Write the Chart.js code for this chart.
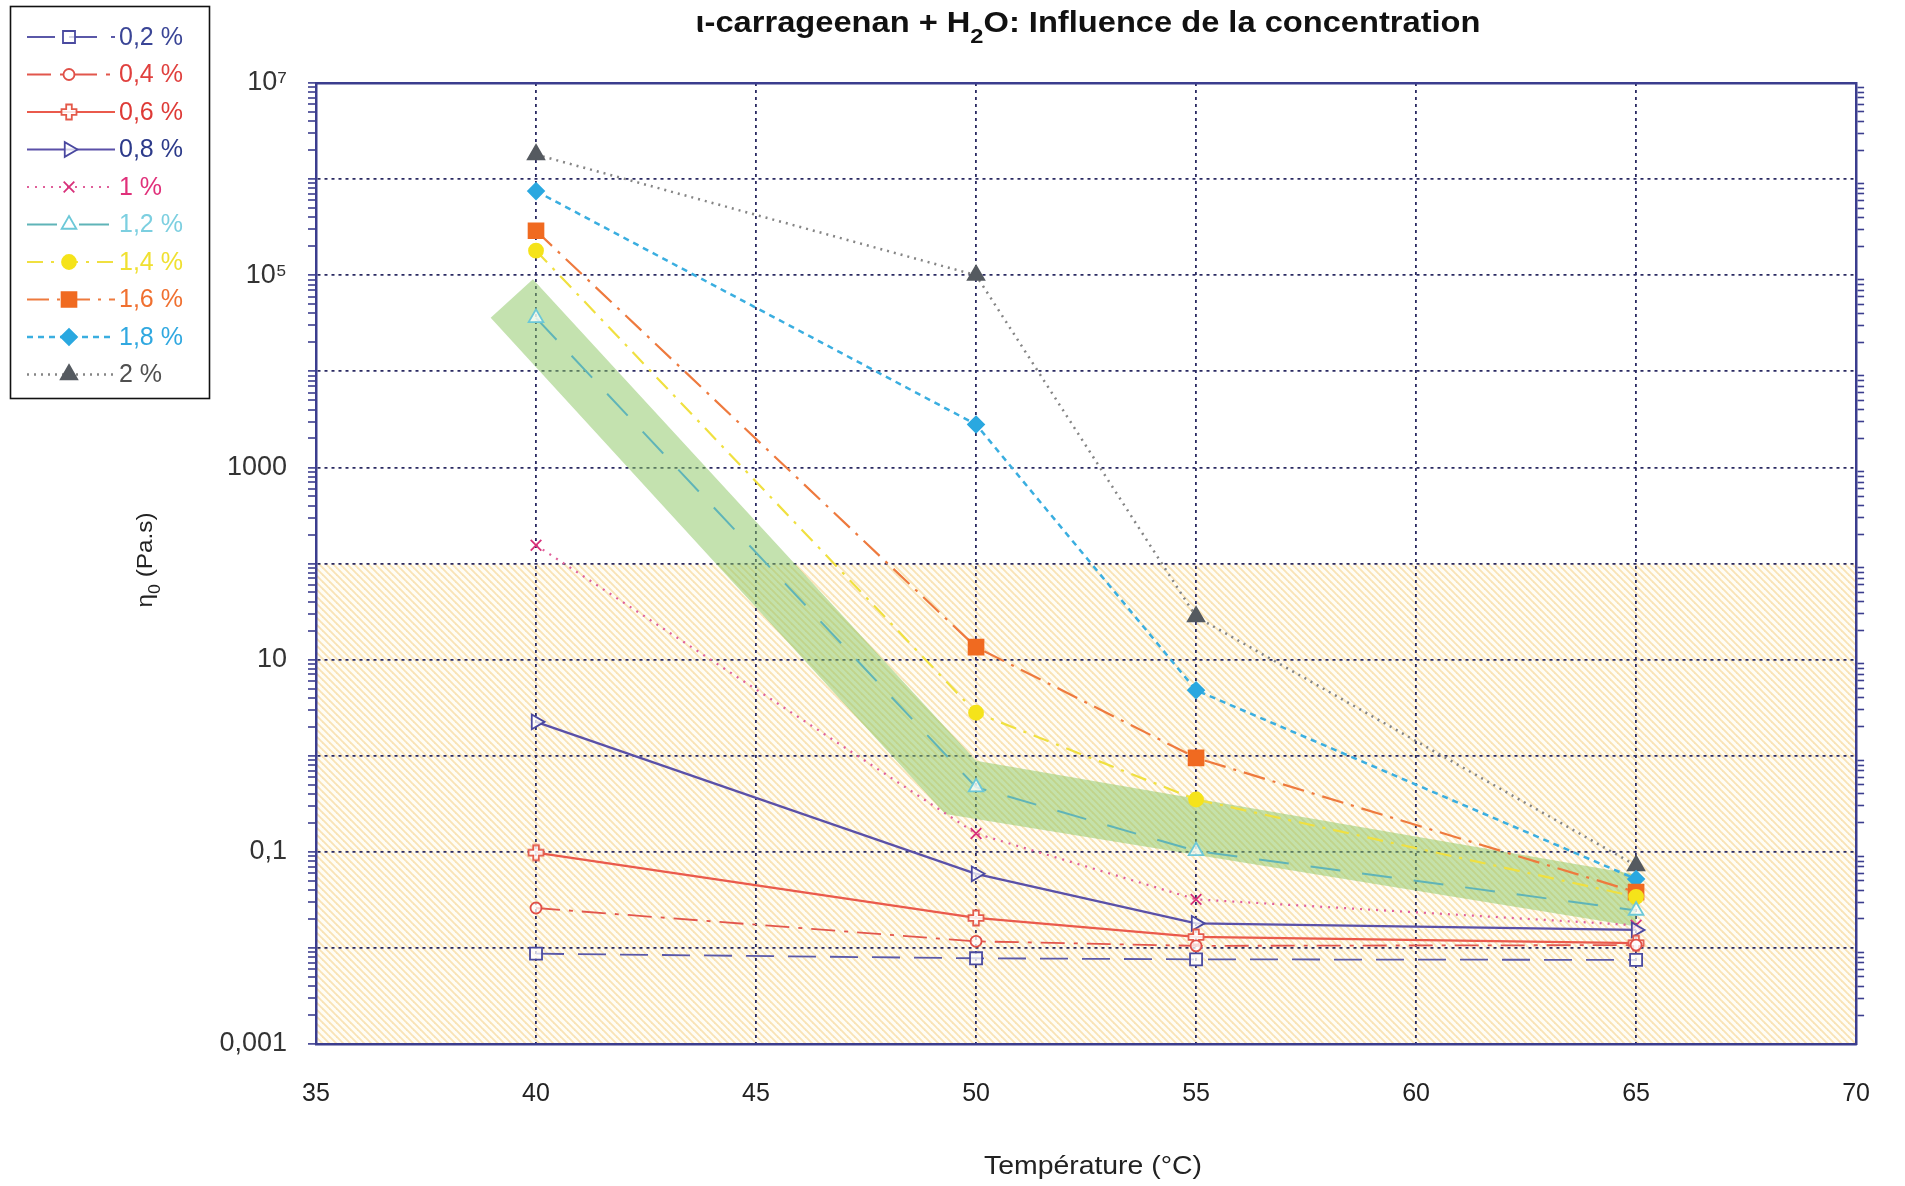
<!DOCTYPE html>
<html><head><meta charset="utf-8">
<script src="https://cdn.jsdelivr.net/npm/chart.js@4.4.1/dist/chart.umd.min.js"></script>
<style>html,body{margin:0;padding:0;background:#fff}#wrap{position:relative;width:1905px;height:1186px}</style>
</head><body><div id="wrap"><canvas id="c" width="1905" height="1186"></canvas></div>
<script>
// ---------- data ----------
const temperatures = [40, 50, 55, 65];
const seriesLabels = ['0,2 %', '0,4 %', '0,6 %', '0,8 %', '1 %', '1,2 %', '1,4 %', '1,6 %', '1,8 %', '2 %'];
const c02 = [0.0087, 0.0078, 0.0076, 0.0075];
const c04 = [0.026, 0.0117, 0.0105, 0.0107];
const c06 = [0.098, 0.0205, 0.013, 0.0112];
const c08 = [2.25, 0.059, 0.018, 0.0154];
const c10 = [155, 0.155, 0.032, 0.0172];
const c12 = [36000, 0.47, 0.102, 0.0245];
const c14 = [180000, 2.8, 0.35, 0.034];
const c16 = [290000, 13.5, 0.95, 0.038];
const c18 = [750000, 2800, 4.8, 0.052];
const c20 = [1800000, 100000, 28, 0.072];
const seriesValues = [c02, c04, c06, c08, c10, c12, c14, c16, c18, c20];
// highlighted band (polygon outline)
const bandX = [38.97, 39.93, 50.0, 65.0, 65.0, 49.3];
const bandY = [36000, 91000, 0.885, 0.058, 0.0167, 0.247];
// hatched zone: below this viscosity
const hatchLimit = 100;
const xTicks = [35, 40, 45, 50, 55, 60, 65, 70];
const yTickLabels = {'7': '10\u2077', '5': '10\u2075', '3': '1000', '1': '10', '-1': '0,1', '-3': '0,001'};
const titleParts = [{t: '\u03b9-carrageenan + H'}, {t: '2', sub: true}, {t: 'O: Influence de la concentration'}];
const yTitleParts = [{t: '\u03b7'}, {t: '0', sub: true}, {t: ' (Pa.s)'}];
const xTitle = 'Temp\u00e9rature (\u00b0C)';

// ---------- styles ----------
const NAVY = '#3b3d8e';
function plusImage(color) {
  const s = 20, c = document.createElement('canvas'); c.width = c.height = s;
  const g = c.getContext('2d'); const a = 2.8, h = 7.5, m = s / 2;
  g.beginPath();
  g.moveTo(m - a, m - h); g.lineTo(m + a, m - h); g.lineTo(m + a, m - a); g.lineTo(m + h, m - a);
  g.lineTo(m + h, m + a); g.lineTo(m + a, m + a); g.lineTo(m + a, m + h); g.lineTo(m - a, m + h);
  g.lineTo(m - a, m + a); g.lineTo(m - h, m + a); g.lineTo(m - h, m - a); g.lineTo(m - a, m - a);
  g.closePath(); g.fillStyle = 'rgba(255,255,255,0.85)'; g.fill();
  g.strokeStyle = color; g.lineWidth = 1.8; g.stroke();
  return c;
}
const OPEN = 'rgba(255,255,255,0.75)';
const styles = [
  {line: '#5a58a8', dash: [28, 14], w: 1.8, ps: 'rect', r: 8.5, bg: OPEN, pb: '#4a4aa0', text: '#3a4596'},
  {line: '#e2564c', dash: [24, 9, 4, 9], w: 1.8, ps: 'circle', r: 5.5, bg: OPEN, pb: '#e05048', text: '#e0403e'},
  {line: '#ea5a4c', dash: [], w: 2.2, ps: plusImage('#e45a4a'), r: 8, bg: OPEN, pb: '#e45a4a', text: '#de3a36'},
  {line: '#5a50a8', dash: [], w: 2.2, ps: 'triangle', rot: 90, r: 8.5, bg: OPEN, pb: '#4a48a0', text: '#2c3a8a'},
  {line: '#e0609a', dash: [2, 6], w: 2.2, ps: 'crossRot', r: 7.5, bg: '#d8307a', pb: '#d8307a', text: '#e0307a'},
  {line: '#5fb4b8', dash: [30, 22], w: 2, ps: 'triangle', r: 8.5, bg: OPEN, pb: '#6cc8d8', text: '#7ccfe0'},
  {line: '#f0e040', dash: [16, 8, 3, 8], w: 2.2, ps: 'circle', r: 7, bg: '#f5e31a', pb: '#f5e31a', text: '#f0e030'},
  {line: '#ee7a3e', dash: [22, 8, 3, 8], w: 2.2, ps: 'rect', r: 10.5, bg: '#f06a20', pb: '#f06a20', text: '#f07030'},
  {line: '#3aaee0', dash: [6, 5], w: 2.5, ps: 'rectRot', r: 8, bg: '#2aa8e0', pb: '#2aa8e0', text: '#30a8e0'},
  {line: '#858585', dash: [2, 5], w: 2.5, ps: 'triangle', r: 9.5, bg: '#555a60', pb: '#555a60', text: '#505050'}
];

function isDecade(v) { const e = Math.log10(v); return Math.abs(e - Math.round(e)) < 1e-6; }
function logTicks() {
  const t = [];
  for (let e = -3; e <= 7; e++) {
    for (let m = 1; m <= 9; m++) {
      const v = m * Math.pow(10, e);
      if (v <= 1e7 * 1.0000001) t.push({value: Number(v.toPrecision(6))});
      if (e === 7) break;
    }
  }
  return t;
}

const datasets = seriesValues.map((vals, i) => {
  const s = styles[i];
  return {
    label: seriesLabels[i],
    data: temperatures.map((x, k) => ({x: x, y: vals[k]})),
    showLine: true, borderColor: s.line, borderDash: s.dash, borderWidth: s.w,
    pointStyle: s.ps, pointRotation: s.rot || 0, pointRadius: s.r, pointHoverRadius: s.r,
    pointBackgroundColor: s.bg, pointBorderColor: s.pb, pointBorderWidth: 1.8,
    fill: false, order: 1, tension: 0, legendText: s.text
  };
});
datasets.push({
  label: 'band', data: bandX.map((x, k) => ({x: x, y: bandY[k]})).concat([{x: bandX[0], y: bandY[0]}]),
  showLine: true, borderWidth: 0, borderColor: 'rgba(0,0,0,0)', pointRadius: 0, pointHoverRadius: 0,
  fill: 'shape', backgroundColor: 'rgba(138,198,96,0.5)', order: 100, tension: 0
});

// hatch pattern
function hatchPattern(ctx) {
  const s = 7, c = document.createElement('canvas'); c.width = c.height = s;
  const g = c.getContext('2d');
  g.fillStyle = '#fffdf5'; g.fillRect(0, 0, s, s);
  g.strokeStyle = '#f9e3b6'; g.lineWidth = 1.9;
  for (const off of [-s, 0, s]) { g.beginPath(); g.moveTo(off - 1, -1); g.lineTo(off + s + 1, s + 1); g.stroke(); }
  return ctx.createPattern(c, 'repeat');
}

function drawRich(ctx, parts, cx, cy, size, bold, color, targetW) {
  const f = (sub) => (bold ? 'bold ' : '') + (sub ? Math.round(size * 0.72) : size) + 'px "Liberation Sans", Arial, sans-serif';
  let w = 0;
  parts.forEach(p => { ctx.font = f(p.sub); p._w = ctx.measureText(p.t).width; w += p._w; });
  const sx = targetW ? targetW / w : 1;
  ctx.save(); ctx.translate(cx, cy); ctx.scale(sx, 1);
  ctx.fillStyle = color; ctx.textBaseline = 'middle'; ctx.textAlign = 'left';
  let x = -w / 2;
  parts.forEach(p => { ctx.font = f(p.sub); ctx.fillText(p.t, x, p.sub ? size * 0.45 : 0); x += p._w; });
  ctx.restore();
}

const decor = {
  id: 'decor',
  beforeDraw(chart) {
    const {ctx, chartArea: a, scales} = chart;
    const yTop = scales.y.getPixelForValue(hatchLimit);
    ctx.save();
    ctx.fillStyle = hatchPattern(ctx);
    ctx.fillRect(a.left, yTop, a.right - a.left, a.bottom - yTop);
    ctx.restore();
  },
  afterDraw(chart) {
    const ctx = chart.ctx;
    // title
    drawRich(ctx, titleParts, 1088, 24, 29, true, '#111', 785);
    // y title
    ctx.save(); ctx.translate(146, 560); ctx.rotate(-Math.PI / 2);
    drawRich(ctx, yTitleParts, 0, 0, 22, false, '#222', 95);
    ctx.restore();
    // x title
    drawRich(ctx, [{t: xTitle}], 1093, 1167, 25, false, '#222', 218);
    // legend
    ctx.save();
    ctx.fillStyle = '#fff'; ctx.fillRect(10, 6, 199, 392);
    ctx.strokeStyle = '#111'; ctx.lineWidth = 1.6; ctx.strokeRect(10.5, 6.5, 199, 392);
    chart.data.datasets.forEach((ds, i) => {
      if (i >= seriesLabels.length) return;
      const y = 37 + i * 37.5;
      ctx.setLineDash(ds.borderDash); ctx.strokeStyle = ds.borderColor; ctx.lineWidth = ds.borderWidth;
      ctx.beginPath(); ctx.moveTo(27, y); ctx.lineTo(115, y); ctx.stroke();
      ctx.setLineDash([]);
      ctx.fillStyle = ds.pointBackgroundColor; ctx.strokeStyle = ds.pointBorderColor; ctx.lineWidth = 1.8;
      Chart.helpers.drawPoint(ctx, {pointStyle: ds.pointStyle, rotation: ds.pointRotation, radius: ds.pointRadius, borderWidth: 1.8}, 69, y);
      ctx.font = '25px "Liberation Sans", Arial, sans-serif';
      ctx.fillStyle = ds.legendText; ctx.textBaseline = 'middle'; ctx.textAlign = 'left';
      ctx.fillText(ds.label, 119, y + 1);
    });
    ctx.restore();
  }
};

const gridColorX = (c) => (c.tick && (c.tick.value === 35 || c.tick.value === 70)) ? 'rgba(0,0,0,0)' : '#2a2a62';
const gridColorY = (c) => (c.tick && isDecade(c.tick.value)) ? '#2a2a62' : 'rgba(0,0,0,0)';

new Chart(document.getElementById('c'), {
  type: 'scatter',
  data: {datasets: datasets},
  options: {
    responsive: false, animation: false, devicePixelRatio: 1,
    layout: {padding: 0},
    plugins: {legend: {display: false}, tooltip: {enabled: false}, title: {display: false}},
    scales: {
      x: {
        type: 'linear', position: 'bottom', min: 35, max: 70,
        afterBuildTicks: (ax) => { ax.ticks = xTicks.map(v => ({value: v})); },
        afterFit: (ax) => { ax.height = 142; },
        grid: {color: gridColorX, lineWidth: 1.8, drawTicks: false},
        border: {color: NAVY, width: 2.5, dash: [3, 4]},
        ticks: {padding: 35, color: '#222', font: {size: 25, family: '"Liberation Sans", Arial, sans-serif'}, maxRotation: 0, autoSkip: false}
      },
      x2: {
        type: 'linear', position: 'top', min: 35, max: 70,
        afterFit: (ax) => { ax.height = 83; },
        grid: {drawOnChartArea: false, drawTicks: false},
        border: {color: NAVY, width: 2.5},
        ticks: {display: false}
      },
      y: {
        type: 'logarithmic', position: 'left', min: 0.001, max: 1e7,
        afterBuildTicks: (ax) => { ax.ticks = logTicks(); },
        afterFit: (ax) => { ax.width = 316; },
        grid: {color: gridColorY, lineWidth: (c) => (c.tick && isDecade(c.tick.value)) ? 1.8 : 0,
               drawTicks: true, tickLength: 8, tickColor: NAVY, tickWidth: 1.6},
        border: {color: NAVY, width: 2.5, dash: [3, 4]},
        ticks: {
          padding: 21, color: '#333', autoSkip: false,
          font: {size: 27, family: '"Liberation Sans", Arial, sans-serif'},
          callback: (v) => { if (!isDecade(v)) return ''; const e = Math.round(Math.log10(v)); return yTickLabels[String(e)] || ''; }
        }
      },
      y2: {
        type: 'logarithmic', position: 'right', min: 0.001, max: 1e7,
        afterBuildTicks: (ax) => { ax.ticks = logTicks(); },
        afterFit: (ax) => { ax.width = 36; },
        grid: {drawOnChartArea: false, drawTicks: true, tickLength: 8, tickColor: (c) => (c.tick && isDecade(c.tick.value)) ? 'rgba(0,0,0,0)' : NAVY, tickWidth: 1.6},
        border: {color: NAVY, width: 2.5},
        ticks: {display: false}
      }
    }
  },
  plugins: [decor]
});
</script></body></html>
